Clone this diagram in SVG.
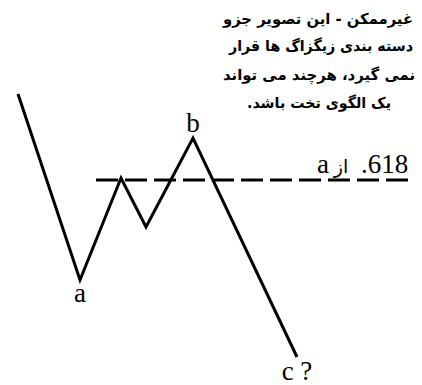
<svg xmlns="http://www.w3.org/2000/svg" width="422" height="385" viewBox="0 0 422 385">
<style>
.ln{fill:none;stroke:#000;stroke-width:3;stroke-linejoin:miter;stroke-linecap:butt}
.lbl{font-family:"Liberation Serif","Times New Roman",serif;font-size:27px;fill:#000}
.fa{font-family:"DejaVu Sans","Noto Sans",sans-serif;font-size:15px;font-weight:bold;fill:#000;direction:rtl;text-anchor:middle}
</style>
<rect width="422" height="385" fill="#fff"/>
<g id="wave">
<polyline class="ln" points="18,94 80,280 121,178 146,227 193,138 297,357"/>
</g>
<g id="level">
<line class="ln" x1="96" y1="180" x2="413" y2="180" stroke-dasharray="22 7"/>
</g>
<g id="labels">
<text class="lbl" x="80" y="302" text-anchor="middle">a</text>
<text class="lbl" x="193" y="132" text-anchor="middle">b</text>
<text class="lbl" x="297" y="380" text-anchor="middle">c ?</text>
<text class="lbl" x="317" y="173">a</text>
<text x="341" y="173" font-family="DejaVu Sans, sans-serif" font-size="19" text-anchor="middle" direction="rtl">از</text>
<text class="lbl" x="361" y="173">.618</text>
</g>
<g id="note">
<text class="fa" x="318" y="24" textLength="190" lengthAdjust="spacingAndGlyphs">غیرممکن - این تصویر جزو</text>
<text class="fa" x="321" y="51" textLength="184" lengthAdjust="spacingAndGlyphs">دسته بندی زیگزاگ ها قرار</text>
<text class="fa" x="319" y="80" textLength="192" lengthAdjust="spacingAndGlyphs">نمی گیرد، هرچند می تواند</text>
<text class="fa" x="319" y="108" textLength="144" lengthAdjust="spacingAndGlyphs">یک الگوی تخت باشد.</text>
</g>
</svg>
